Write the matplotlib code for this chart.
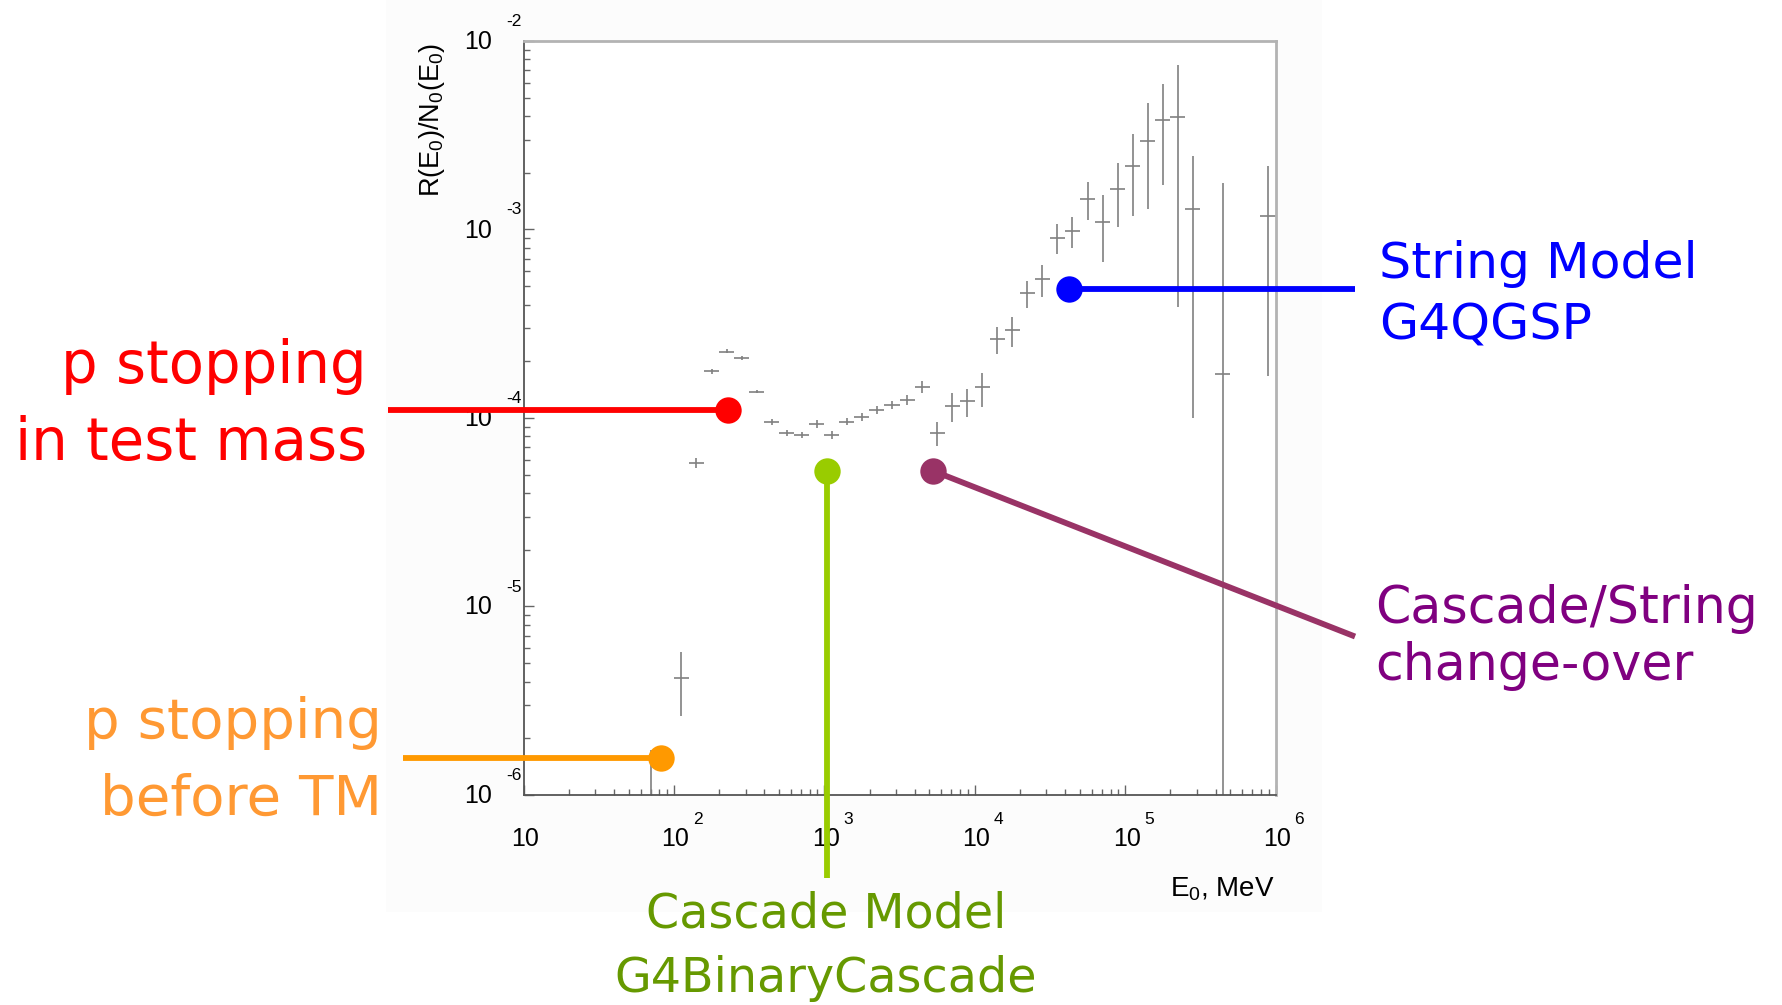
import numpy as np
import matplotlib
matplotlib.use("Agg")
import matplotlib.pyplot as plt
import matplotlib.transforms as mtransforms
from matplotlib.ticker import LogLocator, NullFormatter
from matplotlib.patches import Rectangle

W, H, DPI = 1782, 1005, 100
plt.rcParams["mathtext.default"] = "regular"

# Histogram of R(E0)/N0(E0): 10 bins per decade, centres as log10(E0 / MeV)
log_e_center = [1.85, 2.05, 2.15, 2.25, 2.35, 2.45, 2.55, 2.65, 2.75, 2.85,
                2.95, 3.05, 3.15, 3.25, 3.35, 3.45, 3.55, 3.65, 3.75, 3.85,
                3.95, 4.05, 4.15, 4.25, 4.35, 4.45, 4.55, 4.65, 4.75, 4.85,
                4.95, 5.05, 5.15, 5.25, 5.35, 5.45, 5.65, 5.95]
ratio = [5.0e-7, 4.19e-6, 5.75e-5, 1.775e-4, 2.25e-4, 2.07e-4, 1.38e-4, 9.53e-5,
         8.35e-5, 8.13e-5, 9.29e-5, 8.13e-5, 9.53e-5, 1.009e-4, 1.10e-4, 1.167e-4,
         1.245e-4, 1.466e-4, 8.30e-5, 1.153e-4, 1.230e-4, 1.455e-4, 2.61e-4, 2.93e-4,
         4.59e-4, 5.44e-4, 8.98e-4, 9.82e-4, 1.457e-3, 1.096e-3, 1.645e-3, 2.17e-3,
         2.95e-3, 3.81e-3, 3.94e-3, 1.285e-3, 1.71e-4, 1.184e-3]
ratio_lo = [1.0e-7, 2.62e-6, 5.41e-5, 1.72e-4, 2.20e-4, 2.02e-4, 1.35e-4, 9.19e-5,
            8.05e-5, 7.84e-5, 8.85e-5, 7.74e-5, 9.13e-5, 9.61e-5, 1.048e-4, 1.111e-4,
            1.171e-4, 1.362e-4, 7.10e-5, 9.55e-5, 1.016e-4, 1.148e-4, 2.18e-4, 2.39e-4,
            3.82e-4, 4.37e-4, 7.41e-4, 7.95e-4, 1.123e-3, 6.75e-4, 1.035e-3, 1.18e-3,
            1.28e-3, 1.72e-3, 3.89e-4, 9.96e-5, 1.0e-7, 1.67e-4]
ratio_hi = [1.73e-6, 5.71e-6, 6.11e-5, 1.83e-4, 2.31e-4, 2.12e-4, 1.41e-4, 9.88e-5,
            8.66e-5, 8.43e-5, 9.75e-5, 8.54e-5, 9.95e-5, 1.06e-4, 1.155e-4, 1.225e-4,
            1.323e-4, 1.577e-4, 9.55e-5, 1.362e-4, 1.42e-4, 1.74e-4, 3.03e-4, 3.45e-4,
            5.35e-4, 6.46e-4, 1.066e-3, 1.169e-3, 1.794e-3, 1.525e-3, 2.245e-3, 3.20e-3,
            4.67e-3, 5.91e-3, 7.46e-3, 2.455e-3, 1.77e-3, 2.17e-3]

x_decades = [1, 2, 3, 4, 5, 6]
y_decades = [-6, -5, -4, -3, -2]

# Call-out dots (data coordinates) and the far end of each leader line
callout_dot_x = [230.0, 81.7, 1050.0, 5260.0, 42400.0]
callout_dot_y = [1.10e-4, 1.58e-6, 5.25e-5, 5.25e-5, 4.83e-4]
callout_end_x = [1.26, 1.58, 1050.0, 3.38e6, 3.38e6]
callout_end_y = [1.10e-4, 1.58e-6, 3.63e-7, 6.93e-6, 4.83e-4]
callout_line_color = ["#ff0000", "#ff9900", "#99cc00", "#993366", "#0000ff"]

LABEL_FONT = "DejaVu Sans"
AXIS_FONT = "Liberation Sans"

fig = plt.figure(figsize=(W / DPI, H / DPI), dpi=DPI)
fig.patch.set_facecolor("white")


def fx(x):
    return x / W


def fy(y):
    return 1 - y / H


# Canvas panel behind the plot
panel = Rectangle((fx(386), fy(912)), fx(1322 - 386), 912 / H,
                  transform=fig.transFigure, facecolor="#fcfcfc",
                  edgecolor="none", zorder=-10)
fig.patches.append(panel)

ax = fig.add_axes([fx(523.5), fy(795), fx(752), 754 / H])
ax.set_xscale("log")
ax.set_yscale("log")
ax.set_xlim(10, 1e6)
ax.set_ylim(1e-6, 1e-2)
ax.set_facecolor("white")

centers = 10.0 ** np.array(log_e_center)
x_lo = 10.0 ** (np.array(log_e_center) - 0.05)
x_hi = 10.0 ** (np.array(log_e_center) + 0.05)
y = np.array(ratio)
yerr = np.vstack([y - np.array(ratio_lo), np.array(ratio_hi) - y])
xerr = np.vstack([centers - x_lo, x_hi - centers])
ax.errorbar(centers, y, xerr=xerr, yerr=yerr, fmt="none",
            ecolor="#808080", elinewidth=1.2, capsize=0, zorder=2)

# Frame
for side in ("left", "bottom"):
    ax.spines[side].set_color("#555555")
    ax.spines[side].set_linewidth(1.3)
for side in ("top", "right"):
    ax.spines[side].set_color("#b3b3b3")
    ax.spines[side].set_linewidth(2.0)

ax.xaxis.set_major_locator(LogLocator(base=10, numticks=20))
ax.xaxis.set_minor_locator(LogLocator(base=10, subs=np.arange(2, 10), numticks=20))
ax.yaxis.set_major_locator(LogLocator(base=10, numticks=20))
ax.yaxis.set_minor_locator(LogLocator(base=10, subs=np.arange(2, 10), numticks=20))
ax.xaxis.set_minor_formatter(NullFormatter())
ax.yaxis.set_minor_formatter(NullFormatter())
ax.tick_params(which="both", direction="in", top=False, right=False,
               labelbottom=False, labelleft=False, color="#666666", width=1.0)
ax.tick_params(which="major", length=7.5)
ax.tick_params(which="minor", length=4.0)

# ROOT-style tick labels: "10" with the exponent set apart
ytrans = ax.get_yaxis_transform()
for d in y_decades:
    ax.text((478 - 523.5) / 752, 10.0 ** d, "10", transform=mtransforms.offset_copy(
        ytrans, fig=fig, x=0, y=-1, units="dots"), ha="center", va="center",
        fontsize=18, family=AXIS_FONT, color="black")
    ax.text((522 - 523.5) / 752, 10.0 ** d, "%d" % d, transform=mtransforms.offset_copy(
        ytrans, fig=fig, x=0, y=19.5, units="dots"), ha="right", va="center",
        fontsize=12.5, family=AXIS_FONT, color="black")

xtrans = ax.get_xaxis_transform()
for d in x_decades:
    ax.text(10.0 ** d, 0, "10", transform=mtransforms.offset_copy(
        xtrans, fig=fig, x=1.5, y=-44, units="dots"), ha="center", va="center",
        fontsize=18, family=AXIS_FONT, color="black")
    if d > 1:
        ax.text(10.0 ** d, 0, "%d" % d, transform=mtransforms.offset_copy(
            xtrans, fig=fig, x=19, y=-25, units="dots"), ha="left", va="center",
            fontsize=12.5, family=AXIS_FONT, color="black")

fig.text(fx(432), fy(43), r"R(E$_0$)/N$_0$(E$_0$)", rotation=90, ha="center", va="top",
         fontsize=19.5, family=AXIS_FONT, color="black")
fig.text(fx(1275), fy(889), r"E$_0$, MeV", ha="right", va="center",
         fontsize=20, family=AXIS_FONT, color="black")

# Call-out leader lines and dots
for dx, dy, ex, ey, c in zip(callout_dot_x, callout_dot_y, callout_end_x,
                             callout_end_y, callout_line_color):
    ax.plot([ex, dx], [ey, dy], color=c, lw=4.2, solid_capstyle="butt",
            clip_on=False, zorder=5)
    ax.plot([dx], [dy], "o", color=c, markersize=19, markeredgewidth=0,
            clip_on=False, zorder=6)

renderer = fig.canvas.get_renderer()


def label_block(lines, x, baselines, ha, color, ref_line, target_width):
    probe = fig.text(0, 0, lines[ref_line], fontsize=40, family=LABEL_FONT)
    w = probe.get_window_extent(renderer).width
    probe.remove()
    size = 40 * target_width / w
    for line, yb in zip(lines, baselines):
        fig.text(fx(x), fy(yb), line, fontsize=size, ha=ha, va="baseline",
                 color=color, family=LABEL_FONT)


label_block(["p stopping", "in test mass"], 367, [383, 460], "right", "#ff0000", 1, 352)
label_block(["p stopping", "before TM"], 382, [738, 815], "right", "#ff9933", 0, 297)
label_block(["Cascade Model", "G4BinaryCascade"], 826, [928, 992], "center", "#669900", 1, 422)
label_block(["String Model", "G4QGSP"], 1379, [278, 340], "left", "#0000ff", 0, 318)
label_block(["Cascade/String", "change-over"], 1375, [623, 680], "left", "#800080", 0, 383)

fig.savefig("out.png", dpi=DPI)
